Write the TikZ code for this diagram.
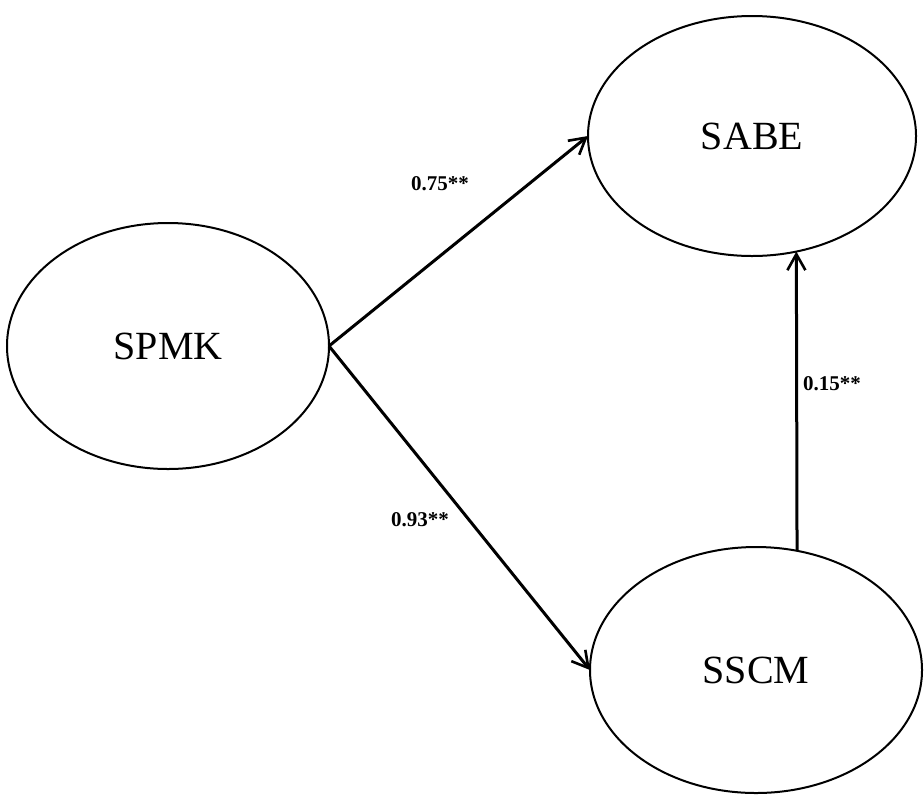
\documentclass[tikz,border=0pt]{standalone}
\usepackage{fontspec}
\setmainfont{Liberation Serif}
\usetikzlibrary{shapes.geometric,arrows.meta}

\begin{document}
\begin{tikzpicture}[x=0.5pt,y=-0.5pt,
  construct/.style={ellipse,draw,line width=1pt,inner sep=0pt,outer sep=0pt,
    font=\fontsize{20}{24}\selectfont},
  path/.style={line width=1.5pt,-{Straight Barb[length=8pt,width=9pt,line width=1.3pt]}},
  coef/.style={font=\fontsize{10.5}{12}\selectfont\bfseries}]
  \useasboundingbox (0,0) rectangle (924,798);

  % latent constructs
  \node[construct,minimum width=161pt,minimum height=123pt] (spmk) at (168,346) {SPMK};
  \node[construct,minimum width=164pt,minimum height=120pt] (sabe) at (752,136) {SABE};
  \node[construct,minimum width=166pt,minimum height=123pt] (sscm) at (756,670) {SSCM};

  % structural paths
  \draw[path] (spmk.east) -- (sabe.west);
  \draw[path] (spmk.east) -- (sscm.west);
  \draw[path] (sscm.71.5) -- (sabe.-69.2);

  % path coefficients
  \node[coef] (c1) at (440,184) {0.75**};
  \node[coef] (c2) at (420,520) {0.93**};
  \node[coef] (c3) at (832,384) {0.15**};
\end{tikzpicture}
\end{document}
